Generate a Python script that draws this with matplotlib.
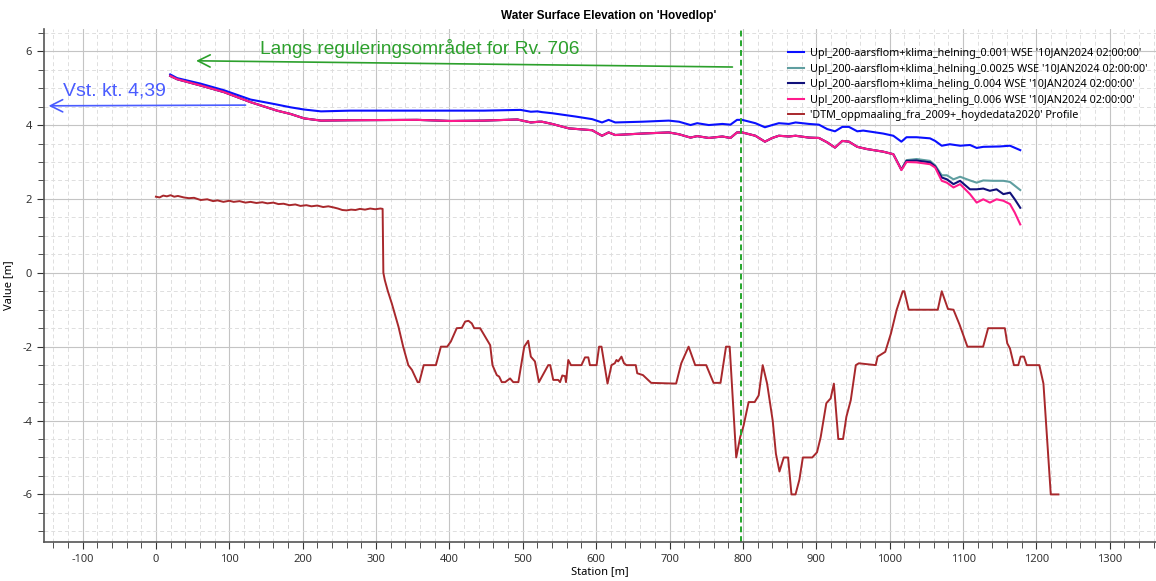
import numpy as np
import matplotlib
matplotlib.use("Agg")
import matplotlib.pyplot as plt
from matplotlib.ticker import MultipleLocator

plt.rcParams['font.family'] = ['Noto Sans', 'DejaVu Sans']
plt.rcParams['axes.unicode_minus'] = False

# --- terrain profile (DTM) ---
terrain_x = [0, 5, 10, 15, 20, 25, 30, 38, 45, 52, 61, 70, 78, 84, 92, 100, 106, 114, 122, 129,
             137, 145, 152, 160, 167, 174, 182, 190, 197, 205, 212, 220, 228, 235, 242, 248, 254,
             260, 266, 272, 278, 285, 292, 299, 306, 309,
             310, 312, 316, 321.5, 330.6, 337, 344, 349, 356.7, 359, 365, 381.6, 388.4, 397, 402,
             410, 417, 421.5, 426, 430.5, 433.8, 441.9, 448.8, 455.6, 458.7, 464.6, 467.8, 471.4,
             476, 482.7, 487, 494, 502, 507.4, 511, 516.6, 522, 534.7, 537.4, 541.5, 548.3, 550.8,
             553.9, 557.6, 558.9, 562, 565.7, 580, 584.8, 589.3, 591.5, 600.6, 604, 607.3, 615.5,
             620.9, 625.4, 627.7, 630, 634.5, 638, 641.3, 654, 656, 663.8, 675, 709, 716, 726, 735,
             750, 760, 769.5, 777, 782, 790.9, 796.3, 800.9, 807.8, 816, 821.5, 827, 833, 840.6,
             845, 849.8, 855.7, 861.6, 866.2, 871.7, 877, 881.7, 894.5, 901, 906, 913.7, 919.6,
             924, 930, 936.5, 941, 947, 953.9, 958, 981, 983.6, 994, 1001.8, 1009.6, 1017.8, 1020,
             1026, 1065.6, 1071, 1079.5, 1087, 1095.4, 1106, 1127.4, 1134.2, 1157, 1160.3, 1164,
             1169.4, 1175.3, 1178.5, 1183, 1186.8, 1204, 1209.6, 1219.6, 1230]
terrain_y = [2.06, 2.04, 2.09, 2.07, 2.10, 2.06, 2.08, 2.04, 2.02, 2.03, 1.97, 1.99, 1.94, 1.96,
             1.92, 1.95, 1.92, 1.94, 1.90, 1.92, 1.89, 1.91, 1.88, 1.90, 1.86, 1.87, 1.83, 1.85,
             1.81, 1.83, 1.80, 1.82, 1.78, 1.80, 1.77, 1.74, 1.70, 1.69, 1.71, 1.70, 1.73, 1.71,
             1.74, 1.72, 1.74, 1.73,
             0.0, -0.2, -0.49, -0.83, -1.46, -2.0, -2.5, -2.63, -2.96, -2.96, -2.5, -2.5, -2.0,
             -2.0, -1.86, -1.5, -1.49, -1.32, -1.3, -1.37, -1.5, -1.5, -1.73, -1.96, -2.5, -2.77,
             -2.81, -2.96, -2.96, -2.86, -2.96, -2.96, -2.0, -1.84, -2.27, -2.4, -2.96, -2.5,
             -2.5, -2.9, -2.9, -2.96, -2.78, -2.8, -2.96, -2.36, -2.5, -2.5, -2.29, -2.29, -2.5,
             -2.5, -2.0, -2.0, -3.0, -2.5, -2.45, -2.36, -2.4, -2.27, -2.45, -2.5, -2.5, -2.72,
             -2.77, -2.98, -3.0, -2.45, -2.0, -2.5, -2.5, -2.98, -2.98, -2.0, -2.0, -5.0, -4.45,
             -4.14, -3.5, -3.5, -3.32, -2.5, -3.0, -4.0, -4.9, -5.38, -5.0, -5.0, -6.0, -6.0,
             -5.6, -5.0, -5.0, -4.86, -4.45, -3.53, -3.4, -3.0, -4.5, -4.5, -3.9, -3.45, -2.5,
             -2.45, -2.5, -2.27, -2.14, -1.64, -1.0, -0.5, -0.5, -1.0, -1.0, -0.5, -0.98, -1.0,
             -1.41, -2.0, -2.0, -1.5, -1.5, -1.91, -2.05, -2.5, -2.5, -2.27, -2.27, -2.5, -2.5,
             -3.0, -6.0, -6.0]

# --- WSE, slope 0.001 ---
wse_001_x = [19.5, 29, 61, 93, 129, 161, 183.5, 202, 225, 265, 356, 447, 497, 511, 520, 526, 540,
             572, 594.5, 608, 617, 626, 663, 699, 713, 728.6, 737.7, 753.6, 772, 783, 792, 799,
             817, 830, 840, 849, 862.7, 871.8, 890, 903.6, 915, 925.5, 935.5, 944.5, 955.9, 964,
             991, 1005, 1016, 1023, 1036.6, 1055, 1062, 1071, 1082, 1096, 1109.5, 1118.6, 1127.6,
             1150, 1164, 1178]
wse_001_y = [5.37, 5.27, 5.12, 4.94, 4.69, 4.57, 4.48, 4.42, 4.37, 4.39, 4.39, 4.39, 4.41, 4.36,
             4.37, 4.35, 4.32, 4.23, 4.16, 4.07, 4.14, 4.07, 4.09, 4.12, 4.09, 4.00, 4.05, 4.00,
             4.03, 4.01, 4.14, 4.14, 4.05, 3.94, 4.00, 4.05, 4.03, 4.07, 4.03, 4.01, 3.89, 3.83,
             3.95, 3.95, 3.83, 3.85, 3.77, 3.71, 3.55, 3.67, 3.67, 3.64, 3.57, 3.44, 3.48, 3.44,
             3.46, 3.38, 3.41, 3.42, 3.44, 3.32]

# steeper slopes share the same upstream profile
wse_head_x = [19.5, 29, 61, 93, 129, 165, 183.5, 202, 225, 265, 356, 402, 447, 492.5, 511, 522,
              526, 540, 562.7, 594.5, 608, 617, 626, 663, 699, 713, 728.6, 737.7, 753.6, 772,
              783, 792, 799, 817, 830, 840, 849, 862.7, 871.8, 890, 903.6, 915, 925.5, 935.5,
              944.5, 955.9, 969, 991, 1005]
wse_head_y = [5.33, 5.24, 5.07, 4.89, 4.62, 4.39, 4.30, 4.18, 4.12, 4.13, 4.14, 4.11, 4.12, 4.15,
              4.07, 4.09, 4.09, 4.03, 3.91, 3.86, 3.71, 3.80, 3.73, 3.77, 3.80, 3.75, 3.66, 3.70,
              3.65, 3.69, 3.65, 3.80, 3.80, 3.71, 3.55, 3.65, 3.71, 3.69, 3.71, 3.66, 3.65, 3.53,
              3.39, 3.57, 3.55, 3.41, 3.35, 3.28, 3.21]

wse_0025_tx = [1016, 1023, 1036.6, 1055, 1062, 1071, 1078, 1087, 1096, 1109.5, 1118.6, 1127.6,
               1141, 1155, 1164, 1178]
wse_0025_ty = [2.80, 3.05, 3.08, 3.03, 2.91, 2.64, 2.64, 2.53, 2.60, 2.50, 2.44, 2.50, 2.49, 2.49,
               2.46, 2.24]
wse_004_tx = [1016, 1023, 1036.6, 1055, 1062, 1071, 1078, 1087, 1096, 1109.5, 1118.6, 1127.6,
              1136.6, 1145.7, 1155, 1164, 1170.5, 1178]
wse_004_ty = [2.79, 3.03, 3.04, 2.99, 2.88, 2.58, 2.53, 2.40, 2.49, 2.26, 2.26, 2.28, 2.22, 2.26,
              2.13, 2.17, 1.99, 1.76]
wse_006_tx = [1016, 1023, 1036.6, 1055, 1062, 1071, 1078, 1087, 1096, 1109.5, 1118.6, 1127.6,
              1136.6, 1145.7, 1155, 1164, 1170.5, 1178]
wse_006_ty = [2.78, 3.00, 2.99, 2.94, 2.85, 2.49, 2.44, 2.31, 2.40, 2.13, 1.90, 1.99, 1.90, 1.99,
              1.95, 1.86, 1.63, 1.31]

labels = ["Upl_200-aarsflom+klima_helning_0.001 WSE '10JAN2024 02:00:00'",
          "Upl_200-aarsflom+klima_helning_0.0025 WSE '10JAN2024 02:00:00'",
          "Upl_200-aarsflom+klima_heling_0.004 WSE '10JAN2024 02:00:00'",
          "Upl_200-aarsflom+klima_heling_0.006 WSE '10JAN2024 02:00:00'",
          "'DTM_oppmaaling_fra_2009+_hoydedata2020' Profile"]
colors = ['#0a10ff', '#5f9ea0', '#10107a', '#ff1a8c', '#a8282c']

fig = plt.figure(figsize=(11.56, 5.81), dpi=100)
ax = fig.add_axes([44 / 1156, 1 - 541.7 / 581, 1 - 44 / 1156, (541.7 - 29) / 581])

ax.plot(wse_001_x, wse_001_y, color=colors[0], lw=1.5, label=labels[0])
ax.plot(wse_head_x + wse_0025_tx, wse_head_y + wse_0025_ty, color=colors[1], lw=1.5, label=labels[1])
ax.plot(wse_head_x + wse_004_tx, wse_head_y + wse_004_ty, color=colors[2], lw=1.5, label=labels[2])
ax.plot(wse_head_x + wse_006_tx, wse_head_y + wse_006_ty, color=colors[3], lw=1.5, label=labels[3])
ax.plot(terrain_x, terrain_y, color=colors[4], lw=1.4, label=labels[4])

ax.set_xlim(-152.5, 1363)
ax.set_ylim(-7.28, 6.6)

ax.xaxis.set_major_locator(MultipleLocator(100))
ax.xaxis.set_minor_locator(MultipleLocator(20))
ax.yaxis.set_major_locator(MultipleLocator(2))
ax.yaxis.set_minor_locator(MultipleLocator(0.5))
ax.grid(which='major', color='#c4c4c4', lw=0.8, ls='-')
ax.grid(which='minor', color='#dedede', lw=0.7, ls=(0, (4, 3)))
ax.set_axisbelow(True)

for s in ['top', 'right']:
    ax.spines[s].set_visible(False)
for s in ['left', 'bottom']:
    ax.spines[s].set_color('#555555')
    ax.spines[s].set_linewidth(1.2)
ax.tick_params(which='both', colors='#333333', labelsize=8, direction='out')
ax.tick_params(which='major', length=5)
ax.tick_params(which='minor', length=4)

ax.set_title("Water Surface Elevation on 'Hovedlop'", fontsize=8.5, fontweight='bold',
             family='Liberation Sans', x=(609 - 44) / 1112, pad=7)
ax.set_xlabel('Station [m]', fontsize=8, labelpad=1)
ax.set_ylabel('Value [m]', fontsize=8, labelpad=6)

# marker line at station ~797
ax.axvline(797, color='#22a62a', lw=1.4, ls=(0, (3, 2)))

# annotations
ax.annotate('', xy=(51, 5.74), xytext=(789.5, 5.57),
            arrowprops=dict(arrowstyle='->', color='#2ca02c', lw=1.2, mutation_scale=22))
ax.text(142, 6.06, 'Langs reguleringsområdet for Rv. 706', color='#2ca02c',
        fontsize=13.8, family='Liberation Sans', ha='left', va='center')
ax.annotate('', xy=(-150, 4.52), xytext=(126, 4.54),
            arrowprops=dict(arrowstyle='->', color='#4a5cff', lw=1.2, mutation_scale=22))
ax.text(-126, 4.92, 'Vst. kt. 4,39', color='#4a5cff',
        fontsize=14, family='Liberation Sans', ha='left', va='center')

ax.legend(loc='upper left', bbox_to_anchor=((788 - 44) / 1112, 1 - (48 - 29) / 512.7),
          frameon=False, fontsize=7.8, handlelength=1.5, handletextpad=0.5,
          labelspacing=0.42, borderaxespad=0, borderpad=0)

fig.savefig('out.png', dpi=100)
